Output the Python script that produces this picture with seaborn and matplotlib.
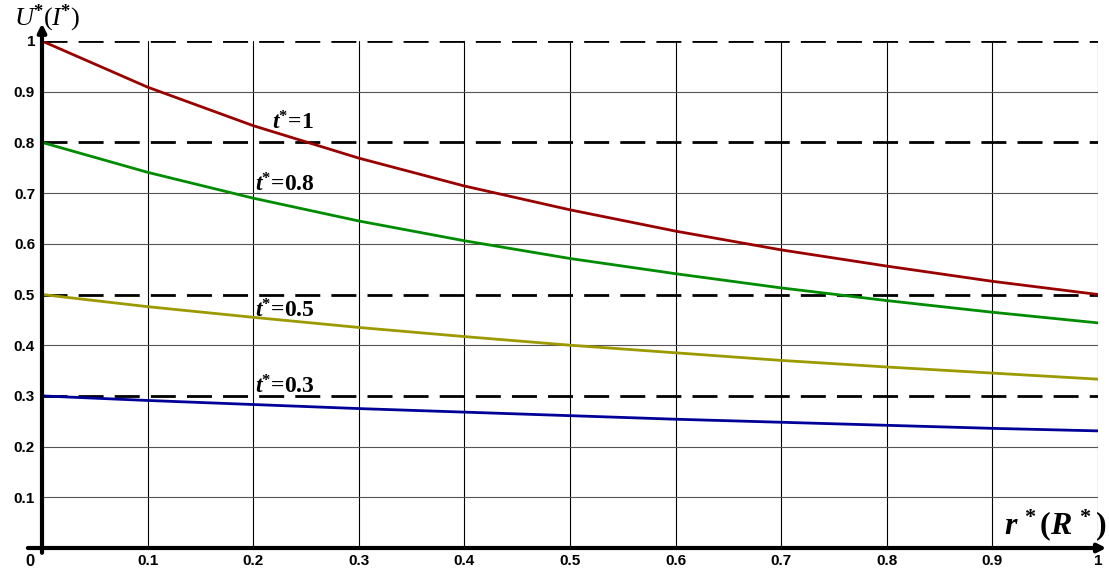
import matplotlib
matplotlib.use("Agg")
import matplotlib.pyplot as plt
import seaborn as sns
import pandas as pd

# ---- data ----
r_vals = [0.0, 0.1, 0.2, 0.3, 0.4, 0.5, 0.6, 0.7, 0.8, 0.9, 1.0]
u_t1   = [1.000, 0.909, 0.833, 0.769, 0.714, 0.667, 0.625, 0.588, 0.556, 0.526, 0.500]
u_t08  = [0.800, 0.741, 0.690, 0.645, 0.606, 0.571, 0.541, 0.513, 0.488, 0.465, 0.444]
u_t05  = [0.500, 0.476, 0.455, 0.435, 0.417, 0.400, 0.385, 0.370, 0.357, 0.345, 0.333]
u_t03  = [0.300, 0.291, 0.283, 0.275, 0.268, 0.261, 0.254, 0.248, 0.242, 0.236, 0.231]
series_names = ["t*=1", "t*=0.8", "t*=0.5", "t*=0.3"]
dashed_levels = [1.0, 0.8, 0.5, 0.3]
x_ticks = [0.1, 0.2, 0.3, 0.4, 0.5, 0.6, 0.7, 0.8, 0.9, 1.0]
x_tick_labels = ["0.1", "0.2", "0.3", "0.4", "0.5", "0.6", "0.7", "0.8", "0.9", "1"]
y_ticks = [0.1, 0.2, 0.3, 0.4, 0.5, 0.6, 0.7, 0.8, 0.9, 1.0]
y_tick_labels = ["0.1", "0.2", "0.3", "0.4", "0.5", "0.6", "0.7", "0.8", "0.9", "1"]
curve_labels = [r"$\mathbf{t}^{*}$=1", r"$\mathbf{t}^{*}$=0.8",
                r"$\mathbf{t}^{*}$=0.5", r"$\mathbf{t}^{*}$=0.3"]
label_pos = [(0.218, 0.826), (0.202, 0.704), (0.202, 0.455), (0.202, 0.305)]

sns.set_style("white")
plt.rcParams["text.color"] = "black"
plt.rcParams["xtick.color"] = "black"
plt.rcParams["ytick.color"] = "black"
plt.rcParams["mathtext.fontset"] = "custom"
plt.rcParams["mathtext.rm"] = "Liberation Serif:bold"
plt.rcParams["mathtext.bf"] = "Liberation Serif:bold:italic"
plt.rcParams["mathtext.it"] = "Liberation Serif:bold:italic"
plt.rcParams["mathtext.cal"] = "Liberation Serif:italic"
plt.rcParams["mathtext.sf"] = "Liberation Serif"

df = pd.DataFrame({
    "r": r_vals * 4,
    "u": u_t1 + u_t08 + u_t05 + u_t03,
    "series": sum([[n] * len(r_vals) for n in series_names], []),
})
palette = {"t*=1": "#990000", "t*=0.8": "#008C00", "t*=0.5": "#9C9A00", "t*=0.3": "#000099"}

fig = plt.figure(figsize=(11.09, 5.70), dpi=100)
ax = fig.add_axes([42 / 1109, 22 / 570, (1098 - 42) / 1109, (548 - 41) / 570])

# grid
for xv in x_ticks:
    ax.axvline(xv, color="black", lw=0.8, zorder=1)
for yv in y_ticks:
    if yv not in dashed_levels:
        ax.axhline(yv, color="#555555", lw=0.8, zorder=1)
for yv in dashed_levels:
    ax.axhline(yv, color="black", lw=2.0, dashes=(9, 4), zorder=2)

sns.lineplot(data=df, x="r", y="u", hue="series", palette=palette, lw=2.0,
             legend=False, ax=ax, zorder=3)

for txt, (xx, yy) in zip(curve_labels, label_pos):
    ax.text(xx, yy, txt, fontsize=17, family="Liberation Serif", fontweight="bold",
            ha="left", va="baseline", color="black", zorder=4)

ax.set_xlim(0, 1)
ax.set_ylim(0, 1)
for s in ax.spines.values():
    s.set_visible(False)

ax.set_xticks(x_ticks)
ax.set_xticklabels(x_tick_labels, fontsize=11, fontweight="bold", family="Liberation Sans")
ax.set_yticks(y_ticks)
ax.set_yticklabels(y_tick_labels, fontsize=11, fontweight="bold", family="Liberation Sans")
ax.tick_params(axis="x", length=0, pad=4)
ax.tick_params(axis="y", length=0, pad=5)
ax.set_xlabel("")
ax.set_ylabel("")

# axis arrows
ax.annotate("", xy=(1.0105, 0), xytext=(-0.016, 0), xycoords="axes fraction",
            arrowprops=dict(arrowstyle="-|>", lw=3, color="black", mutation_scale=12),
            annotation_clip=False, zorder=5)
ax.annotate("", xy=(0, 1.04), xytext=(0, -0.015), xycoords="axes fraction",
            arrowprops=dict(arrowstyle="-|>", lw=3, color="black", mutation_scale=12),
            annotation_clip=False, zorder=5)

ax.text(-0.007, -0.012, "0", transform=ax.transAxes, fontsize=12, fontweight="bold",
        family="Liberation Sans", ha="right", va="top")
fig.text(14 / 1109, 1 - 3 / 570, r"$\mathcal{U}^{*}\mathsf{(}\mathcal{I}^{*}\mathsf{)}$",
         fontsize=19, ha="left", va="top")
ax.text(1.008, 0.01, r"$r^{\,*}(R^{\,*})$", transform=ax.transAxes, fontsize=23,
        ha="right", va="bottom")

fig.savefig("out.png", dpi=100)
